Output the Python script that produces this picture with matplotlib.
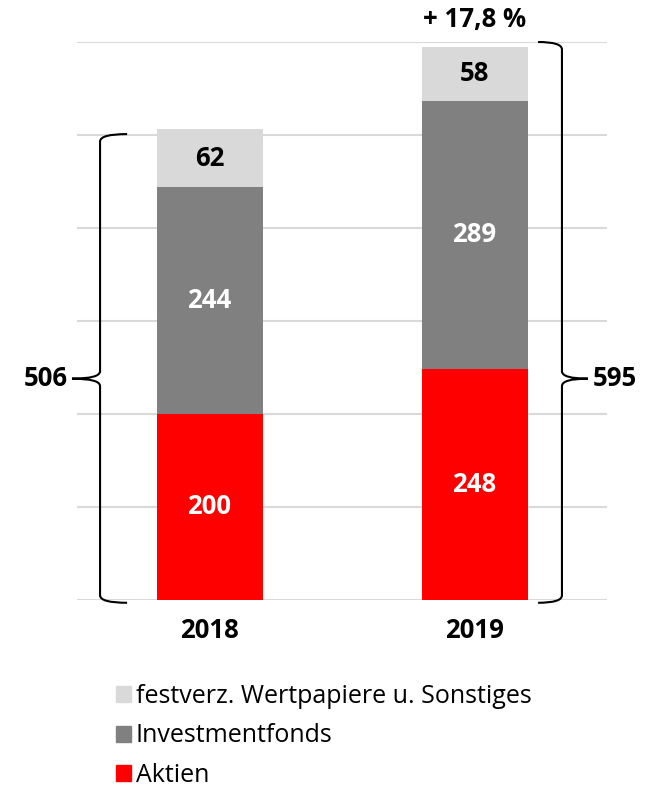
import matplotlib.pyplot as plt
from matplotlib.path import Path
from matplotlib.patches import PathPatch, Patch

years = ['2018', '2019']
aktien = [200, 248]
fonds = [244, 289]
sonstige = [62, 58]
totals = [506, 595]
growth_label = '+ 17,8 %'

series_names = ['Aktien', 'Investmentfonds', 'festverz. Wertpapiere u. Sonstiges']
colors = ['#FF0000', '#808080', '#D9D9D9']
text_colors = ['white', 'white', 'black']

plt.rcParams['font.family'] = ['Open Sans', 'DejaVu Sans']

fig = plt.figure(figsize=(6.58, 7.89), dpi=100)
ax = fig.add_axes([77 / 658, 1 - 600 / 789, 530 / 658, 558 / 789])

x = list(range(len(years)))
bottom = [0, 0]
for vals, col, tcol in zip([aktien, fonds, sonstige], colors, text_colors):
    ax.bar(x, vals, width=0.4, bottom=bottom, color=col, zorder=2)
    for xi, v, b in zip(x, vals, bottom):
        ax.text(xi, b + v / 2, str(v), ha='center', va='center', color=tcol,
                fontsize=18.5, fontweight='bold', zorder=3)
    bottom = [b + v for b, v in zip(bottom, vals)]

ax.set_xlim(-0.5, 1.5)
ax.set_ylim(0, 600)
ax.set_yticks(range(0, 601, 100))
ax.yaxis.grid(True, color='#D9D9D9', linewidth=1.5, zorder=0)
ax.set_axisbelow(True)
ax.tick_params(left=False, bottom=False, labelleft=False)
ax.set_xticks(x)
ax.set_xticklabels(years, fontsize=18.5, fontweight='bold')
ax.tick_params(axis='x', pad=9)
for s in ax.spines.values():
    s.set_visible(False)


def brace(xv, y0, y1, ym, tip, mid, r=8):
    # xv: vertical line x, tip: x of end hooks, mid: x of middle point
    verts = [(tip, y1), (xv, y1), (xv, y1 - r),
             (xv, ym + r), (xv, ym), (mid, ym),
             (xv, ym), (xv, ym - r),
             (xv, y0 + r), (xv, y0), (tip, y0)]
    codes = [Path.MOVETO, Path.CURVE3, Path.CURVE3,
             Path.LINETO, Path.CURVE3, Path.CURVE3,
             Path.CURVE3, Path.CURVE3,
             Path.LINETO, Path.CURVE3, Path.CURVE3]
    ax.add_patch(PathPatch(Path(verts, codes), fill=False, edgecolor='black',
                           linewidth=1.5, clip_on=False, zorder=4))


brace(-0.413, -3, totals[0] - 5, 238, -0.311, -0.519)
ax.text(-0.535, 238, str(totals[0]), ha='right', va='center', fontsize=18.5,
        fontweight='bold')
brace(1.330, -3, 600, 238, 1.240, 1.428)
ax.text(1.445, 238, str(totals[1]), ha='left', va='center', fontsize=18.5,
        fontweight='bold')

ax.text(1, 610, growth_label, ha='center', va='bottom', fontsize=18.5,
        fontweight='bold', clip_on=False)

handles = [Patch(color=c) for c in colors[::-1]]
fig.legend(handles, series_names[::-1], loc='upper left',
           bbox_to_anchor=(106 / 658, 1 - 674 / 789), frameon=False,
           fontsize=18, handlelength=0.6, handleheight=0.6,
           handletextpad=0.2, labelspacing=0.58, borderaxespad=0)

fig.savefig('out.png', dpi=100)
